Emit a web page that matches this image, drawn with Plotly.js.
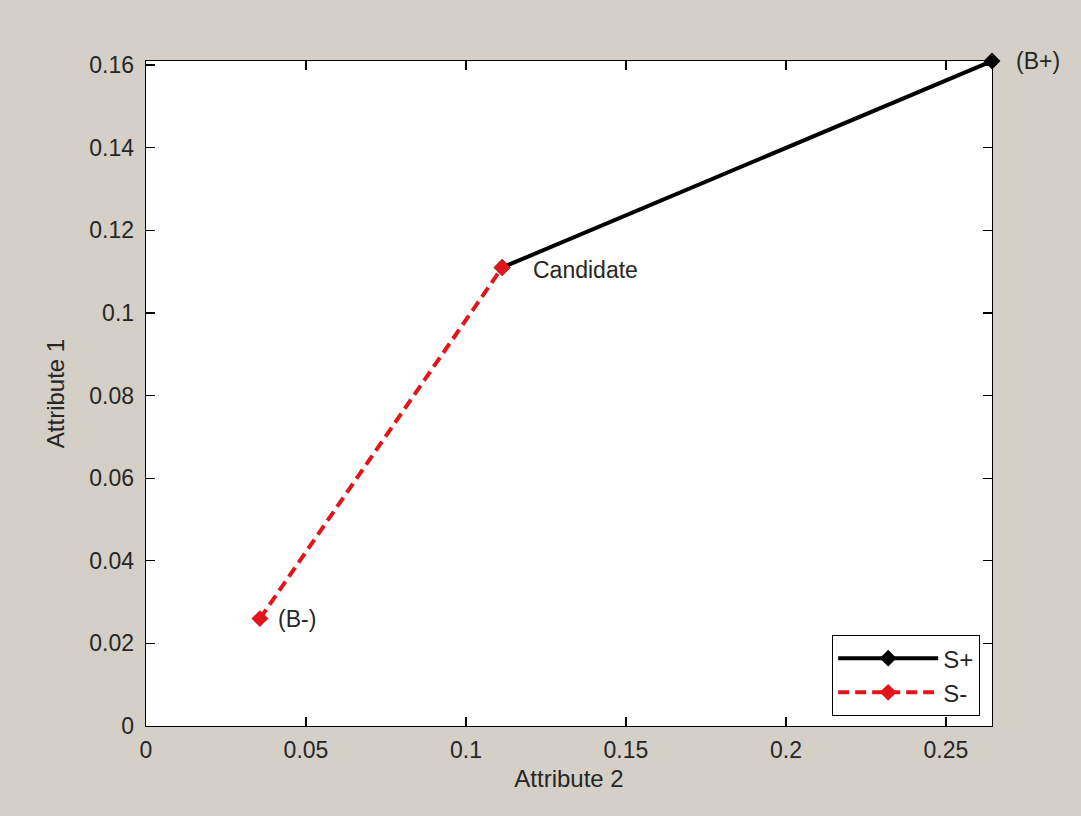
<!DOCTYPE html>
<html>
<head>
<meta charset="utf-8">
<script src="https://cdn.plot.ly/plotly-3.0.1.min.js"></script>
<style>html,body{margin:0;padding:0;background:#d4d0c8;}#chart{width:1081px;height:816px;}</style>
</head>
<body>
<div id="chart"></div>
<script>
// Data
const sPlusX = [0.1113, 0.2644];
const sPlusY = [0.1110, 0.1610];
const sMinusX = [0.0356, 0.1113];
const sMinusY = [0.0260, 0.1110];
const pointLabels = ["(B-)", "Candidate", "(B+)"];
const pointX = [0.0356, 0.1113, 0.2644];
const pointY = [0.0260, 0.1110, 0.1610];
const xTicks = [0, 0.05, 0.1, 0.15, 0.2, 0.25];
const xTickText = ["0", "0.05", "0.1", "0.15", "0.2", "0.25"];
const yTicks = [0, 0.02, 0.04, 0.06, 0.08, 0.1, 0.12, 0.14, 0.16];
const yTickText = ["0", "0.02", "0.04", "0.06", "0.08", "0.1", "0.12", "0.14", "0.16"];

const FONT = 'Arial, "Liberation Sans", sans-serif';
const txtColor = '#262626';

const traces = [
  {x: sPlusX, y: sPlusY, name: 'S+', mode: 'lines+markers',
   line: {color: '#000', width: 4},
   marker: {symbol: 'diamond', size: 13, color: '#000'}, cliponaxis: false},
  {x: sMinusX, y: sMinusY, name: 'S-', mode: 'lines+markers',
   line: {color: '#e0161b', width: 4, dash: '11px,6px'},
   marker: {symbol: 'diamond', size: 13, color: '#e0161b'}, cliponaxis: false}
];

const shifts = [16, 29, 22];
const annotations = pointLabels.map((t, i) => ({
  x: pointX[i], y: pointY[i], text: t, showarrow: false,
  xanchor: 'left', yanchor: 'middle', xshift: shifts[i], yshift: (i === 1 ? -2 : 0),
  font: {family: FONT, size: 23, color: txtColor}
}));

const axisCommon = {
  showgrid: false, zeroline: false, showline: true, linecolor: '#000', linewidth: 1.3,
  mirror: 'allticks', ticks: 'inside', ticklen: 9, tickcolor: '#000', tickwidth: 1.3,
  tickfont: {family: FONT, size: 23, color: txtColor}, tickmode: 'array'
};

const layout = {
  width: 1081, height: 816,
  paper_bgcolor: '#d4d0c8', plot_bgcolor: '#ffffff',
  margin: {l: 146, r: 89, t: 61, b: 90},
  showlegend: true,
  xaxis: Object.assign({}, axisCommon, {
    range: [0, 0.2644], tickvals: xTicks, ticktext: xTickText, ticklabelstandoff: 3,
    title: {text: 'Attribute 2', font: {family: FONT, size: 24, color: txtColor}, standoff: 8}
  }),
  yaxis: Object.assign({}, axisCommon, {
    range: [0, 0.161], tickvals: yTicks, ticktext: yTickText, ticklabelstandoff: 6,
    title: {text: 'Attribute 1', font: {family: FONT, size: 24, color: txtColor}, standoff: 18}
  }),
  legend: {
    x: 0.986, y: 0.015, xanchor: 'right', yanchor: 'bottom',
    bgcolor: '#ffffff', bordercolor: '#000', borderwidth: 1,
    font: {family: FONT, size: 24, color: txtColor}, itemwidth: 100,
    tracegroupgap: 0
  },
  annotations: annotations
};

Plotly.newPlot('chart', traces, layout, {displayModeBar: false, staticPlot: true});
</script>
</body>
</html>
